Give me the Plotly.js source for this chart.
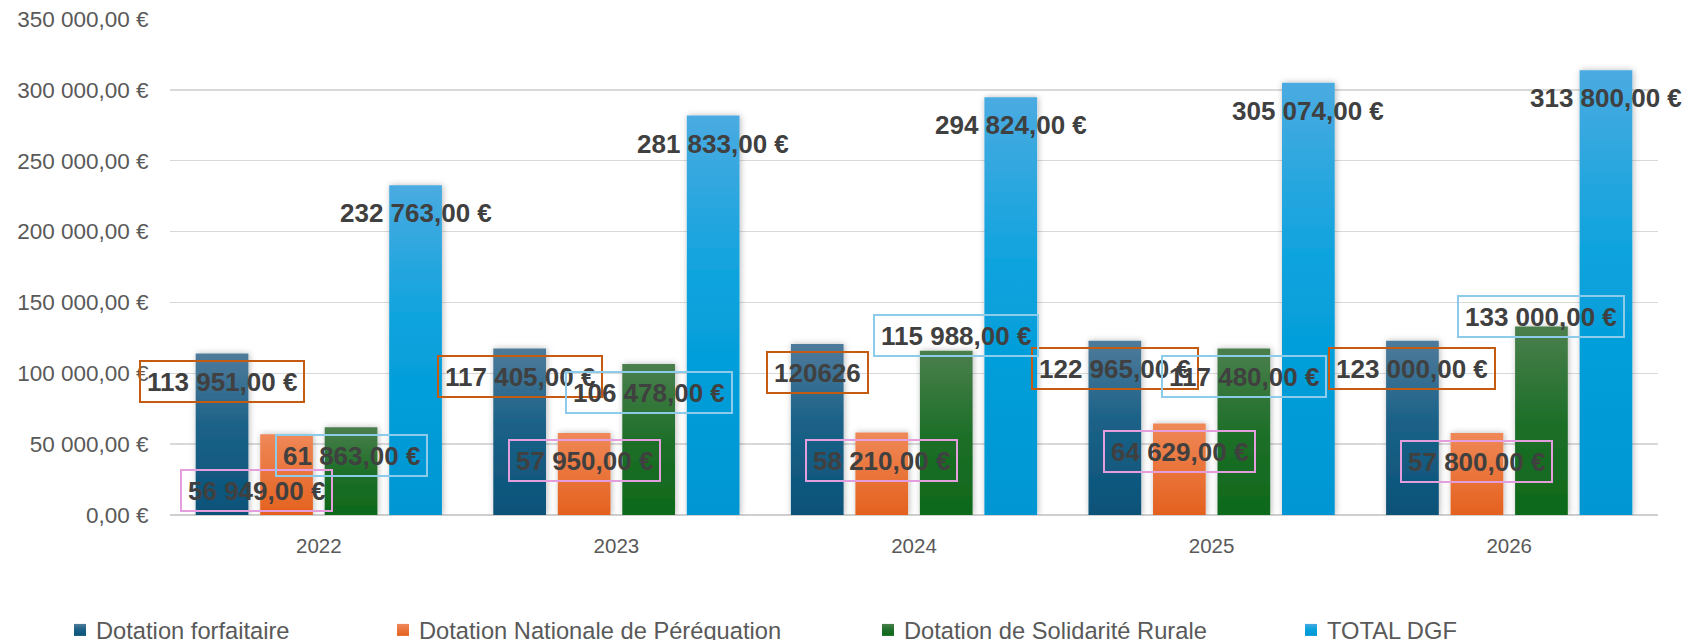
<!DOCTYPE html>
<html>
<head>
<meta charset="utf-8">
<script src="https://cdn.plot.ly/plotly-3.0.1.min.js"></script>
<style>
  html, body { margin: 0; padding: 0; background: #ffffff; }
  #chart { width: 1703px; height: 640px; }
</style>
</head>
<body>
<div id="chart"></div>
<script>
// ---------- DATA ----------
const years = ['2022', '2023', '2024', '2025', '2026'];
const seriesNames = [
  'Dotation forfaitaire',
  'Dotation Nationale de Péréquation',
  'Dotation de Solidarité Rurale',
  'TOTAL DGF'
];
const dotationForfaitaire = [113951, 117405, 120626, 122965, 123000];
const dotationPerequation = [56949, 57950, 58210, 64629, 57800];
const dotationSolidarite = [61863, 106478, 115988, 117480, 133000];
const totalDGF = [232763, 281833, 294824, 305074, 313800];
// Points whose data label is shown unformatted in the original: [series, year index]
const rawLabelPoints = [[0, 2]];

// ---------- STYLE ----------
const FONT = '"Liberation Sans", Arial, sans-serif';
const BARGAP = 0.133;
const BARGROUPGAP = 0.183;
const baseColors = ['#1d6388', '#eb733a', '#1f702b', '#0aa2dd'];
const gradientStops = [
  [[0, '#4f7b9b'], [0.45, '#1c6288'], [1, '#0a5278']],
  [[0, '#ef8858'], [1, '#e4611e']],
  [[0, '#4b7f4d'], [0.5, '#1e6f29'], [1, '#0e691a']],
  [[0, '#4aabe1'], [0.45, '#08a2dd'], [1, '#0096d3']]
];
const labelBorders = ['#C55A11', '#E59EDD', '#8CCBEA', null];
const labelDefaultYShift = -28;
// manual label moves (series-yearIndex): pixel shifts
const labelMoves = {
  '1-0': { xshift: -30, yshift: -56 },
  '2-2': { xshift: 10, yshift: 15 },
  '2-4': { xshift: 0, yshift: 10 }
};
const legendTextStarts = [96, 419, 904, 1327];

const allSeries = [dotationForfaitaire, dotationPerequation, dotationSolidarite, totalDGF];

function fmtEuro(v) {
  const parts = v.toFixed(2).split('.');
  const intPart = parts[0].replace(/\B(?=(\d{3})+(?!\d))/g, ' ');
  return intPart + ',' + parts[1] + ' €';
}
function isRaw(s, i) {
  return rawLabelPoints.some(p => p[0] === s && p[1] === i);
}

const legendIds = ['legend', 'legend2', 'legend3', 'legend4'];

const data = allSeries.map((vals, s) => ({
  type: 'bar',
  name: seriesNames[s],
  x: years,
  y: vals,
  marker: { color: baseColors[s], line: { width: 0 } },
  legend: legendIds[s],
  hoverinfo: 'none'
}));

const slot = (1 - BARGAP) / allSeries.length;
const slotOffsets = allSeries.map((_, s) => (s - (allSeries.length - 1) / 2) * slot);

const annotations = [];
allSeries.forEach((vals, s) => {
  vals.forEach((v, i) => {
    const mv = labelMoves[s + '-' + i] || { xshift: 0, yshift: labelDefaultYShift };
    const ann = {
      xref: 'x', yref: 'y',
      x: i + slotOffsets[s],
      y: v,
      xanchor: 'center', yanchor: 'middle',
      xshift: mv.xshift, yshift: mv.yshift,
      text: isRaw(s, i) ? String(v) : fmtEuro(v),
      showarrow: false,
      font: { family: FONT, size: 26, color: '#404040', weight: 700 }
    };
    if (labelBorders[s]) {
      ann.bordercolor = labelBorders[s];
      ann.borderwidth = 2;
      ann.borderpad = 6;
      ann.height = 27;
    }
    annotations.push(ann);
  });
});

const layout = {
  width: 1703,
  height: 640,
  paper_bgcolor: '#ffffff',
  plot_bgcolor: '#ffffff',
  margin: { l: 170, r: 45, t: 19, b: 125, autoexpand: false },
  separators: ', ',
  barmode: 'group',
  bargap: BARGAP,
  bargroupgap: BARGROUPGAP,
  font: { family: FONT, color: '#595959' },
  xaxis: {
    type: 'category',
    autorange: false,
    range: [-0.5, years.length - 0.5],
    showgrid: false,
    showline: false,
    ticks: 'outside',
    ticklen: 12,
    tickcolor: 'rgba(0,0,0,0)',
    tickfont: { family: FONT, size: 20.5, color: '#595959' }
  },
  yaxis: {
    autorange: false,
    range: [0, 350000],
    tick0: 0,
    dtick: 50000,
    tickformat: ',.2f',
    ticksuffix: ' €',
    showgrid: true,
    gridcolor: '#d9d9d9',
    gridwidth: 1.5,
    zeroline: true,
    zerolinecolor: '#cfcfcf',
    zerolinewidth: 2,
    showline: false,
    ticks: 'outside',
    ticklen: 16,
    tickcolor: 'rgba(0,0,0,0)',
    tickfont: { family: FONT, size: 22.5, color: '#595959' }
  },
  annotations: annotations,
  showlegend: true
};
legendIds.forEach((id, s) => {
  layout[id] = {
    orientation: 'h',
    xref: 'container', yref: 'container',
    x: (legendTextStarts[s] - 40) / 1703,
    y: 10 / 640,
    xanchor: 'left', yanchor: 'middle',
    bgcolor: 'rgba(0,0,0,0)',
    borderwidth: 0,
    font: { family: FONT, size: 23.7, color: '#595959' }
  };
});

Plotly.newPlot('chart', data, layout, { staticPlot: true, displayModeBar: false }).then(gd => {
  const ns = 'http://www.w3.org/2000/svg';
  const svg = gd.querySelector('.main-svg');
  let defs = svg.querySelector('defs');
  if (!defs) { defs = document.createElementNS(ns, 'defs'); svg.insertBefore(defs, svg.firstChild); }
  gradientStops.forEach((stops, s) => {
    const lg = document.createElementNS(ns, 'linearGradient');
    lg.setAttribute('id', 'barGrad' + s);
    lg.setAttribute('x1', '0'); lg.setAttribute('y1', '0');
    lg.setAttribute('x2', '0'); lg.setAttribute('y2', '1');
    stops.forEach(st => {
      const stop = document.createElementNS(ns, 'stop');
      stop.setAttribute('offset', st[0]);
      stop.setAttribute('stop-color', st[1]);
      lg.appendChild(stop);
    });
    defs.appendChild(lg);
  });
  const filt = document.createElementNS(ns, 'filter');
  filt.setAttribute('id', 'barShadow');
  filt.setAttribute('x', '-30%'); filt.setAttribute('y', '-10%');
  filt.setAttribute('width', '160%'); filt.setAttribute('height', '120%');
  const ds = document.createElementNS(ns, 'feDropShadow');
  ds.setAttribute('dx', '1'); ds.setAttribute('dy', '0');
  ds.setAttribute('stdDeviation', '3');
  ds.setAttribute('flood-color', '#000');
  ds.setAttribute('flood-opacity', '0.28');
  filt.appendChild(ds);
  defs.appendChild(filt);

  gd.querySelectorAll('.barlayer .trace.bars').forEach((tr, s) => {
    tr.querySelectorAll('path').forEach(p => {
      p.style.fill = 'url(#barGrad' + s + ')';
      p.setAttribute('filter', 'url(#barShadow)');
    });
  });
  gd.querySelectorAll('.legendpoints').forEach(pts => {
    const tr = pts.parentNode;
    const d = tr && tr.__data__;
    const idx = d && d[0] && d[0].trace ? d[0].trace.index : null;
    const t = pts.getAttribute('transform') || '';
    pts.setAttribute('transform', t + ' translate(4,0)');
    if (idx === null) return;
    pts.querySelectorAll('path').forEach(p => {
      p.style.fill = 'url(#barGrad' + idx + ')';
    });
  });
});
</script>
</body>
</html>
